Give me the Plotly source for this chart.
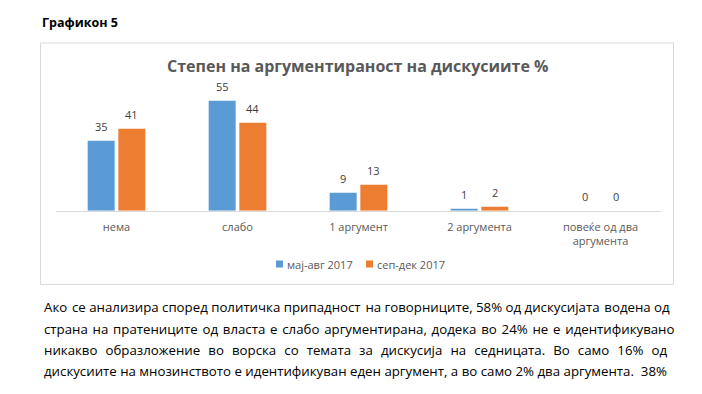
import plotly.graph_objects as go

# page offset: the browser body has an 8px margin
OFF = 8
W, H = 702 - OFF, 394 - OFF

categories = ["нема", "слабо", "1 аргумент", "2 аргумента", "повеќе од два<br>аргумента"]
series_names = ["мај-авг 2017", "сеп-дек 2017"]
may_aug = [35, 55, 9, 1, 0]
sep_dec = [41, 44, 13, 2, 0]

chart_title = "Степен на аргументираност на дискусиите %"
heading = "Графикон 5"
body_lines = [
    "Ако се анализира според политичка припадност на говорниците, 58% од дискусијата водена од",
    "страна на пратениците од власта е слабо аргументирана, додека во 24% не е идентификувано",
    "никакво образложение во ворска со темата за дискусија на седницата. Во само 16% од",
    "дискусиите на мнозинството е идентификуван еден аргумент, а во само 2% два аргумента.  38%",
]
# extra spacing used to justify each line (inserted in every k-th gap)
gap_fill = ["\u200a", "\u200a", "\u2005\u200a", ""]
gap_every = [5, 1, 1, 1]

colors = ["#5B9BD5", "#ED7D31"]
FONT = "Open Sans"
GREY = "#595959"


def px(x):
    return (x - OFF) / W


def py(y):
    return 1 - (y - OFF) / H


def justify(line, fill, every):
    toks = line.split(" ")
    out = toks[0]
    for j, t in enumerate(toks[1:]):
        out += " " + (fill if (fill and j % every == 0) else "") + t
    return out


bargap = 0.493
bargroupgap = 0.12

fig = go.Figure()
for name, vals, c in zip(series_names, [may_aug, sep_dec], colors):
    fig.add_trace(go.Bar(x=categories, y=vals, name=name, marker_color=c,
                         marker_line_width=0, hoverinfo="skip", showlegend=False))

annotations = []
shapes = []
off = (1 - bargap) / 4
for k, vals in enumerate([may_aug, sep_dec]):
    for i, v in enumerate(vals):
        annotations.append(dict(x=i + (off if k else -off), y=v, xref="x", yref="y",
                                text=str(v), showarrow=False, yanchor="middle", yshift=14,
                                font=dict(family=FONT, size=11, color="#404040")))

# legend (manual, Excel style)
leg_x = [276, 366]
for name, c, lx in zip(series_names, colors, leg_x):
    shapes.append(dict(type="rect", xref="paper", yref="paper", x0=px(lx), x1=px(lx + 7),
                       y0=py(267.5), y1=py(260.5), fillcolor=c, line=dict(width=0)))
    annotations.append(dict(x=px(lx + 9), y=py(264), xref="paper", yref="paper", text=name,
                            showarrow=False, xanchor="left", yanchor="middle",
                            font=dict(family=FONT, size=11, color=GREY)))

annotations.append(dict(x=px(357.5), y=py(66), xref="paper", yref="paper", text="<b>" + chart_title + "</b>",
                        showarrow=False, xanchor="center", yanchor="middle",
                        font=dict(family=FONT, size=16, color=GREY)))
annotations.append(dict(x=px(40), y=py(22), xref="paper", yref="paper", text="<b>" + heading + "</b>",
                        showarrow=False, xanchor="left", yanchor="middle",
                        font=dict(family=FONT, size=12.5, color="#000000")))
line_y = [307, 328.5, 350, 370.5]
for t, y, f, e in zip(body_lines, line_y, gap_fill, gap_every):
    annotations.append(dict(x=px(41.5), y=py(y), xref="paper", yref="paper", text=justify(t, f, e),
                            showarrow=False, xanchor="left", yanchor="middle",
                            font=dict(family=FONT, size=13.25, color="#000000")))

shapes.append(dict(type="rect", xref="paper", yref="paper", x0=px(40.5), x1=px(673.5),
                   y0=py(284.5), y1=py(43), line=dict(color="#d9d9d9", width=1)))

fig.update_layout(
    width=W, height=H, margin=dict(l=0, r=0, t=0, b=0),
    paper_bgcolor="white", plot_bgcolor="white",
    barmode="group", bargap=bargap, bargroupgap=bargroupgap,
    showlegend=False,
    xaxis=dict(domain=[px(56), px(661)], range=[-0.5, 4.5], showline=True, linecolor="#d9d9d9",
               linewidth=1, ticks="", showgrid=False, zeroline=False, ticklabelstandoff=6,
               tickfont=dict(family=FONT, size=11, color=GREY), fixedrange=True),
    yaxis=dict(domain=[py(210.7), py(90.7)], range=[0, 60], visible=False, fixedrange=True),
    annotations=annotations,
    shapes=shapes,
)

fig.write_html("out.html")
